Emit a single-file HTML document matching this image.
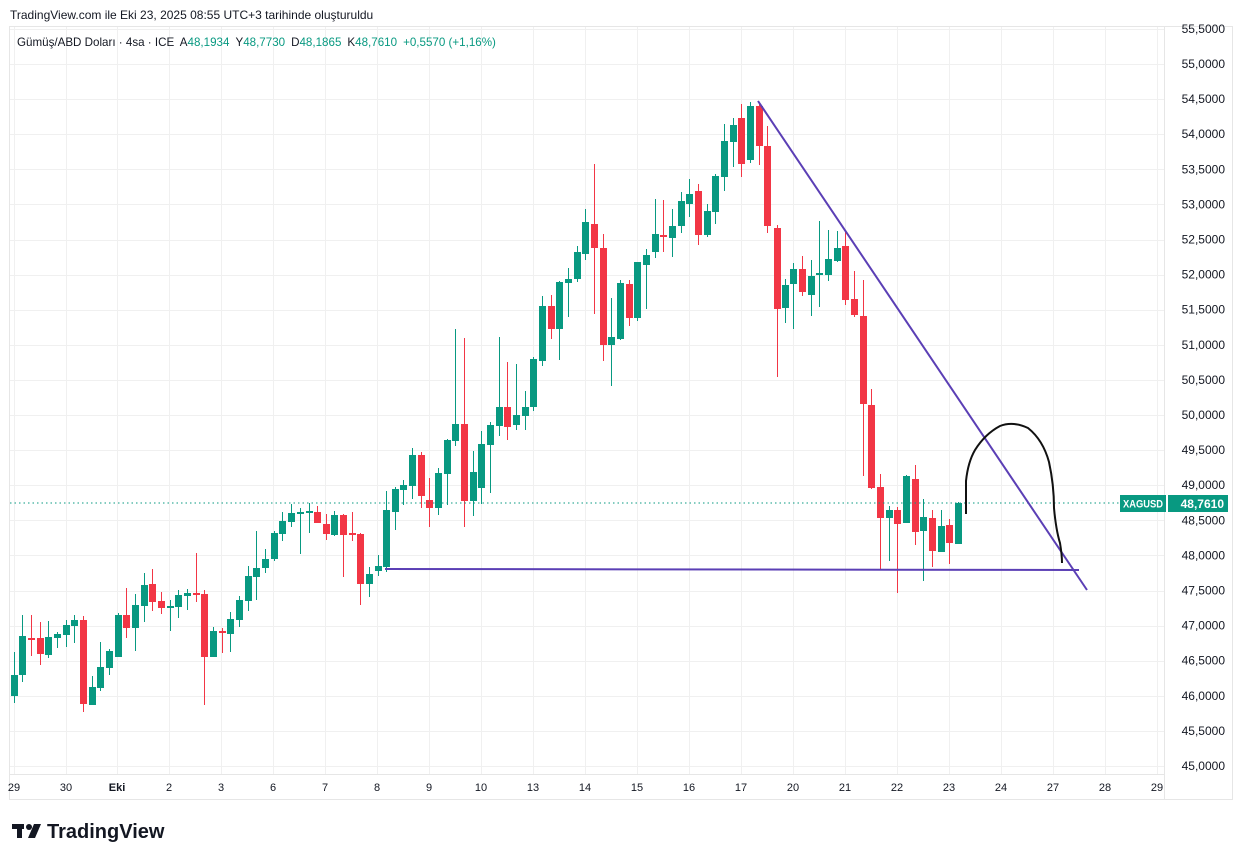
<!DOCTYPE html>
<html><head><meta charset="utf-8"><style>
html,body{margin:0;padding:0;background:#fff;width:1242px;height:861px;overflow:hidden;font-family:"Liberation Sans",sans-serif}
svg{position:absolute;left:0;top:0}
</style></head><body>
<svg id="s" width="1242" height="861" xmlns="http://www.w3.org/2000/svg" font-family="Liberation Sans, sans-serif">
<rect x="0" y="0" width="1242" height="861" fill="#fff"/>
<text x="10" y="19" font-size="12" fill="#131722">TradingView.com ile Eki 23, 2025 08:55 UTC+3 tarihinde oluşturuldu</text>
<rect x="9.5" y="26.5" width="1223" height="773" fill="none" stroke="#e6e6e6"/>
<line x1="1164.5" y1="26" x2="1164.5" y2="800" stroke="#e6e6e6"/>
<line x1="10" y1="774.5" x2="1164" y2="774.5" stroke="#e6e6e6"/>
<g id="grid" stroke="#f0f0f0" stroke-width="1"></g>
<g id="c"></g>
<line x1="10" y1="503" x2="1164" y2="503" stroke="#089981" stroke-width="1" stroke-dasharray="1.5,3"/>
<line x1="385" y1="569" x2="1079" y2="570" stroke="#5b3fb5" stroke-width="2"/>
<line x1="758" y1="101" x2="1087" y2="590" stroke="#5b3fb5" stroke-width="2"/>
<path d="M966,514 L966,481 Q968,462 975,450 Q985,434 1000,426 Q1013,421 1028,428 Q1043,440 1049,462 Q1054,485 1054,508 Q1056,530 1060,543 Q1062,555 1062,563" fill="none" stroke="#111" stroke-width="2"/>
<text x="17" y="46" font-size="11.6" fill="#131722">Gümüş/ABD Doları · 4sa · ICE <tspan dx="3">A</tspan><tspan fill="#089981">48,1934</tspan><tspan dx="6">Y</tspan><tspan fill="#089981">48,7730</tspan><tspan dx="6">D</tspan><tspan fill="#089981">48,1865</tspan><tspan dx="6">K</tspan><tspan fill="#089981">48,7610</tspan><tspan dx="6" fill="#089981">+0,5570 (+1,16%)</tspan></text>
<g id="py" font-size="12" fill="#131722" text-anchor="end"></g>
<rect x="1120" y="495" width="46" height="17" fill="#089981"/>
<text x="1143" y="507.5" font-size="11" fill="#fff" font-weight="bold" text-anchor="middle" textLength="40" lengthAdjust="spacingAndGlyphs">XAGUSD</text>
<rect x="1168" y="495" width="60" height="17" fill="#089981"/>
<text x="1224" y="508" font-size="12" fill="#fff" font-weight="bold" text-anchor="end">48,7610</text>
<g font-size="11" fill="#131722" text-anchor="middle">
<text x="14" y="791">29</text><text x="66" y="791">30</text><text x="117" y="791" font-weight="bold">Eki</text><text x="169" y="791">2</text><text x="221" y="791">3</text><text x="273" y="791">6</text><text x="325" y="791">7</text><text x="377" y="791">8</text><text x="429" y="791">9</text><text x="481" y="791">10</text><text x="533" y="791">13</text><text x="585" y="791">14</text><text x="637" y="791">15</text><text x="689" y="791">16</text><text x="741" y="791">17</text><text x="793" y="791">20</text><text x="845" y="791">21</text><text x="897" y="791">22</text><text x="949" y="791">23</text><text x="1001" y="791">24</text><text x="1053" y="791">27</text><text x="1105" y="791">28</text><text x="1157" y="791">29</text>
</g>
<g fill="#131722"><rect x="12" y="824" width="12" height="5"/><rect x="17" y="824" width="5" height="14"/><circle cx="29" cy="827" r="3"/><polygon points="34,824 41,824 35,838 28,838"/></g>
<text x="47" y="838" font-size="20" font-weight="bold" fill="#131722">TradingView</text>
</svg>
<script>
var ns="http://www.w3.org/2000/svg";
function el(p,t,a){var e=document.createElementNS(ns,t);for(var k in a)e.setAttribute(k,a[k]);p.appendChild(e);return e;}
var g=document.getElementById('grid');
var days=[14,66,117,169,221,273,325,377,429,481,533,585,637,689,741,793,845,897,949,1001,1053,1105,1157];
days.forEach(function(x){el(g,'line',{x1:x+.5,y1:27,x2:x+.5,y2:774});});
var py=document.getElementById('py');
for(var i=0;i<=21;i++){var p=55.5-i*0.5;var y=64+(55-p)*70.2;
 if(y>28)el(g,'line',{x1:10,y1:Math.round(y)+.5,x2:1164,y2:Math.round(y)+.5});
 var t=el(py,'text',{x:1225,y:y+4});t.textContent=p.toFixed(4).replace('.',',');}
var C=[
[14,'G',675,696,652,703],[22,'G',636,675,615,682],[31,'R',638,639,615,656],[40,'R',638,654,622,665],[48,'G',637,655,621,658],[57,'G',634,638,632,648],[66,'G',625,635,620,647],[74,'G',620,626,615,643],[83,'R',620,704,616,712],[92,'G',687,705,676,705],[100,'G',667,688,642,691],[109,'G',651,668,649,675],[118,'G',615,657,613,657],[126,'R',615,628,588,638],[135,'G',605,628,594,651],[144,'G',585,606,573,622],[152,'R',584,602,569,611],[161,'R',601,608,592,614],[170,'G',606,608,600,631],[178,'G',595,607,590,618],[187,'G',593,596,589,610],[196,'R',593,595,553,602],[204,'R',594,657,590,705],[213,'G',631,657,627,657],[222,'R',631,633,628,653],[230,'G',619,634,612,652],[239,'G',600,620,596,627],[248,'G',576,601,566,611],[256,'G',568,577,531,600],
[265,'G',559,568,549,573],[274,'G',533,559,531,561],[282,'G',521,534,512,541],[291,'G',513,522,504,527],[300,'G',512,514,508,554],[309,'G',511,513,503,533],[317,'R',512,523,506,523],[326,'R',524,534,514,540],[334,'G',515,535,511,536],[343,'R',515,535,514,577],[352,'R',533,535,512,541],[360,'R',534,584,533,605],[369,'G',574,584,567,597],[378,'G',566,571,555,576],[386,'G',510,567,491,572],[395,'G',489,512,487,530],[403,'G',485,490,480,505],[412,'G',455,486,448,499],[421,'R',455,496,452,508],[429,'R',500,508,478,527],[438,'G',473,508,468,515],[447,'G',440,474,439,505],[455,'G',424,441,329,446],[464,'R',424,501,338,527],[473,'G',472,501,451,516],[481,'G',444,488,431,504],[490,'G',425,445,422,493],[499,'G',407,426,337,436],[507,'R',407,427,362,440],
[516,'G',415,425,364,430],[525,'G',407,416,391,430],[533,'G',359,407,357,411],[542,'G',306,361,296,366],[551,'R',306,329,295,339],[559,'G',282,329,281,360],[568,'G',279,283,268,317],[577,'G',252,279,246,282],[585,'G',222,254,209,260],[594,'R',224,248,164,314],[603,'R',248,345,234,361],[611,'G',337,345,298,386],[620,'G',283,339,280,340],[629,'R',284,318,280,326],[637,'G',262,318,262,321],[646,'G',255,265,249,309],[655,'G',234,252,199,258],[663,'R',235,237,200,252],[672,'G',226,238,209,257],[681,'G',201,226,192,233],[689,'G',194,204,179,217],[698,'R',191,235,184,245],[707,'G',211,235,204,237],[715,'G',176,212,174,224],[724,'G',141,177,124,191],[733,'G',125,142,118,167],[741,'R',118,164,104,177],[750,'G',106,160,102,163],[759,'R',106,146,104,165],
[767,'R',146,226,126,233],[777,'R',228,309,225,377],[785,'G',285,308,279,323],[793,'G',269,284,263,329],[802,'R',269,292,256,296],[811,'G',276,295,260,316],[819,'G',273,275,221,307],[828,'G',259,275,230,281],[837,'G',248,261,231,262],[845,'R',246,300,232,305],[854,'R',299,315,271,317],[863,'R',316,404,280,476],[871,'R',405,488,389,489],[880,'R',487,518,474,569],[889,'G',510,518,506,561],[897,'R',510,524,507,593],[906,'G',476,523,475,523],[915,'R',479,532,465,545],[923,'G',517,531,499,581],[932,'R',518,551,510,567],[941,'G',526,552,510,552],[949,'R',525,543,519,564],[958,'G',503,544,502,544]];
var cg=document.getElementById('c');
C.forEach(function(c){var col=c[1]=='G'?'#089981':'#f23645';
 el(cg,'line',{x1:c[0]+.5,y1:c[4],x2:c[0]+.5,y2:c[5],stroke:col,'stroke-width':1});
 var h=Math.max(2,c[3]-c[2]);el(cg,'rect',{x:c[0]-3,y:c[2],width:7,height:h,fill:col});});
</script>
</body></html>
